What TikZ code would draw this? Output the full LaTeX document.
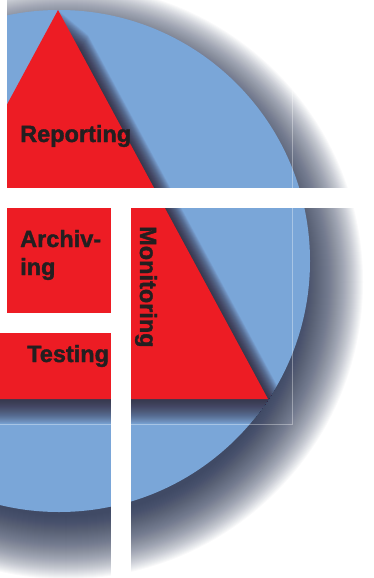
\documentclass[tikz,border=0pt]{standalone}
\usepackage{fontspec}
\setmainfont{Liberation Sans}
\newfontfamily\piecefont[BoldFeatures={FakeBold=1.6}]{Liberation Sans}
\definecolor{discblue}{RGB}{122,166,216}
\definecolor{trired}{RGB}{237,28,36}
\definecolor{labelink}{RGB}{35,31,32}
\definecolor{discshade}{RGB}{30,42,75}
\definecolor{trishade}{RGB}{50,35,50}
\tikzset{piecetext/.style={font=\piecefont\fontsize{23.5}{28}\selectfont\bfseries,text=labelink,inner sep=0pt,anchor=base west}}
\begin{document}
\begin{tikzpicture}[x=1pt,y=-1pt]
  \useasboundingbox (0,0) rectangle (373,578);
  \fill[white] (0,0) rectangle (373,578);
  % soft shadow of the disc
  \foreach \k in {0,...,63}
    \fill[discshade,opacity=0.024] (66,282) circle ({297-\k});
  \fill[discblue] (59,261) circle (251);
  % shadow of the triangle, kept on the disc
  \begin{scope}
    \clip (59,261) circle (251);
    \foreach \k in {1,...,50}
      \fill[trishade,opacity=0.028,shift={(0.6*\k,0.5*\k)}] (58,10) -- (268,399) -- (-152,399) -- cycle;
  \end{scope}
  \fill[trired] (58,10) -- (268,399) -- (-152,399) -- cycle;
  % faint tile edges
  \draw[white,opacity=0.35,line width=0.6pt] (292,0) -- (292,424) -- (0,424);
  % white cuts between the pieces
  \fill[white] (0,0) rectangle (7,313);
  \fill[white] (0,188) rectangle (373,208);
  \fill[white] (111,208) rectangle (131,578);
  \fill[white] (0,313) rectangle (111,333);
  % labels
  \node[piecetext] (reporting) at (20,142) {Reporting};
  \node[piecetext,align=left] (archiving) at (20,275) {Archiv-\\ing};
  \node[piecetext] (testing) at (27,362) {Testing};
  \node[piecetext,rotate=-90] (monitoring) at (140,226) {Monitoring};
\end{tikzpicture}
\end{document}
